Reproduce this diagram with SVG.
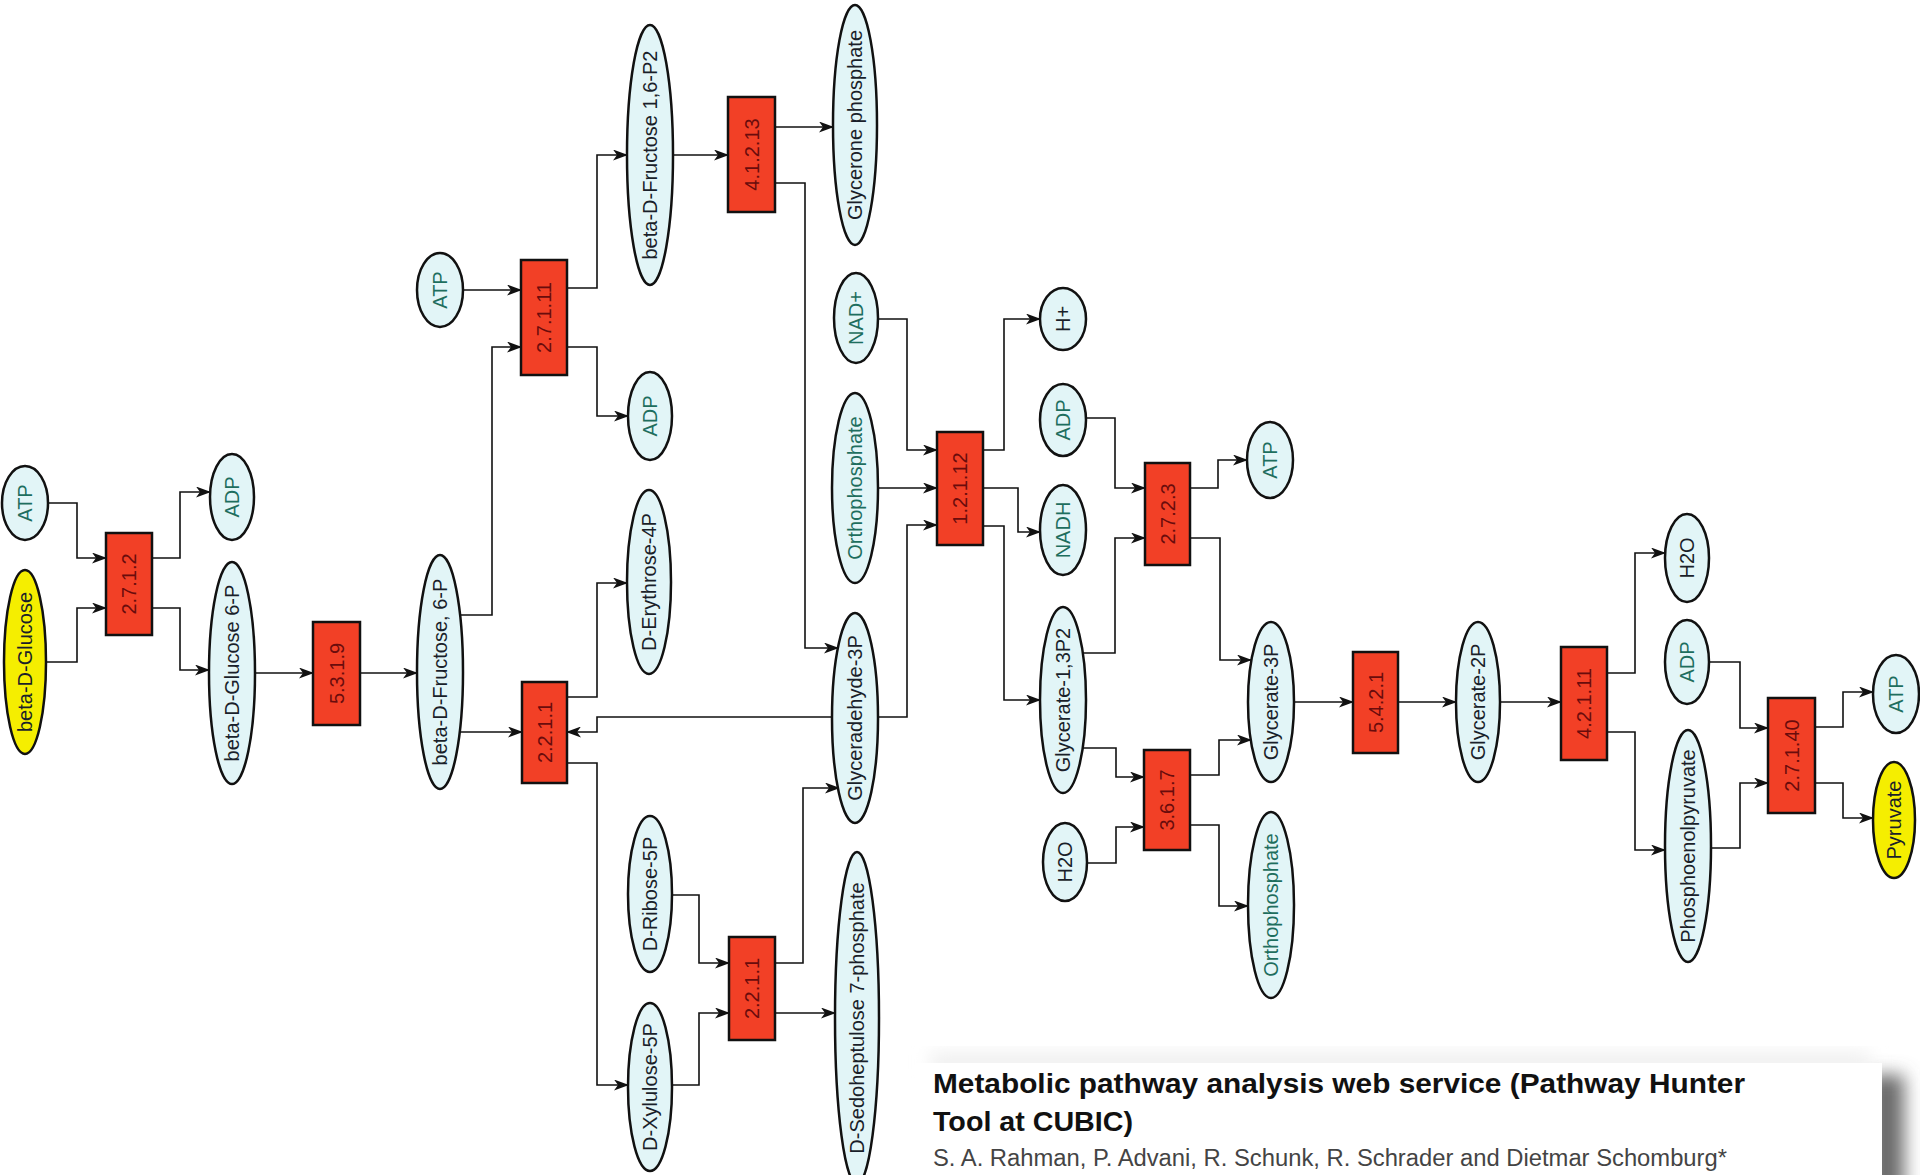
<svg xmlns="http://www.w3.org/2000/svg" width="1920" height="1175" viewBox="0 0 1920 1175">
<defs>
<style>
.m{fill:#e2f5f7;stroke:#111;stroke-width:2.5}
.y{fill:#f5ee00;stroke:#111;stroke-width:2.5}
.e{fill:#f24026;stroke:#111;stroke-width:2.5}
text{font-family:"Liberation Sans",Arial,sans-serif}
.t{font-size:20px;fill:#1a1f2a;text-anchor:middle;dominant-baseline:central}
.c{fill:#1e6e5e}
.et{font-size:20px;fill:#6a0c0c;text-anchor:middle;dominant-baseline:central}
.k path,.k polyline{fill:none;stroke:#111;stroke-width:1.6}
.k polyline{marker-end:url(#ah)}
.ttl{font-size:28px;font-weight:bold;fill:#111}
.au{font-size:23px;fill:#444}
</style>
<marker id="ah" viewBox="0 0 15 11" refX="14" refY="5.5" markerWidth="15" markerHeight="11" markerUnits="userSpaceOnUse" orient="auto"><path d="M0,0 L15,5.5 L0,11 L4,5.5 z" fill="#111"/></marker>
<filter id="sh" x="-50%" y="-50%" width="200%" height="200%"><feGaussianBlur stdDeviation="9"/></filter>
</defs>
<rect width="1920" height="1175" fill="#fff"/>

<g id="connectors" class="k">
<polyline points="48,503 77,503 77,558 106,558"/>
<polyline points="46,662 77,662 77,608 106,608"/>
<polyline points="152,558 180,558 180,492 210,492"/>
<polyline points="152,608 180,608 180,670 209,670"/>
<polyline points="255,673 313,673"/>
<polyline points="360,673 417,673"/>
<polyline points="463,290 521,290"/>
<polyline points="460,615 492,615 492,347 521,347"/>
<polyline points="567,288 597,288 597,155 627,155"/>
<polyline points="567,347 597,347 597,416 628,416"/>
<polyline points="673,155 728,155"/>
<polyline points="775,127 833,127"/>
<polyline points="775,183 805,183 805,648 838,648"/>
<polyline points="459,732 522,732"/>
<polyline points="567,697 597,697 597,583 627,583"/>
<polyline points="832,717 597,717 597,732 567,732"/>
<polyline points="567,763 597,763 597,1085 628,1085"/>
<polyline points="672,895 699,895 699,963 729,963"/>
<polyline points="672,1085 699,1085 699,1013 729,1013"/>
<polyline points="775,963 803,963 803,788 839,788"/>
<polyline points="775,1013 835,1013"/>
<polyline points="878,319 907,319 907,450 937,450"/>
<polyline points="878,488 937,488"/>
<polyline points="878,717 907,717 907,525 937,525"/>
<polyline points="983,450 1004,450 1004,319 1040,319"/>
<polyline points="983,488 1018,488 1018,532 1040,532"/>
<polyline points="983,526 1004,526 1004,700 1040,700"/>
<polyline points="1086,418 1115,418 1115,488 1145,488"/>
<polyline points="1083,653 1115,653 1115,538 1145,538"/>
<polyline points="1190,488 1218,488 1218,460 1247,460"/>
<polyline points="1190,538 1220,538 1220,660 1251,660"/>
<polyline points="1083,748 1116,748 1116,777 1144,777"/>
<polyline points="1087,863 1116,863 1116,827 1144,827"/>
<polyline points="1190,775 1219,775 1219,740 1251,740"/>
<polyline points="1190,825 1219,825 1219,906 1248,906"/>
<polyline points="1294,702 1353,702"/>
<polyline points="1398,702 1456,702"/>
<polyline points="1500,702 1561,702"/>
<polyline points="1607,673 1635,673 1635,553 1665,553"/>
<polyline points="1607,732 1635,732 1635,850 1665,850"/>
<polyline points="1709,662 1740,662 1740,728 1768,728"/>
<polyline points="1711,848 1740,848 1740,783 1768,783"/>
<polyline points="1815,727 1843,727 1843,692 1873,692"/>
<polyline points="1815,783 1843,783 1843,818 1873,818"/>
</g>

<g id="n-atp1"><ellipse class="m" cx="25" cy="503" rx="23" ry="37"/><text class="t c" x="25" y="503" transform="rotate(-90 25 503)">ATP</text></g>
<g id="n-glucose"><ellipse class="y" cx="25" cy="662" rx="21" ry="92"/><text class="t" x="25" y="662" transform="rotate(-90 25 662)">beta-D-Glucose</text></g>
<g id="n-adp1"><ellipse class="m" cx="232" cy="497" rx="22" ry="43"/><text class="t c" x="232" y="497" transform="rotate(-90 232 497)">ADP</text></g>
<g id="n-g6p"><ellipse class="m" cx="232" cy="673" rx="23" ry="111"/><text class="t" x="232" y="673" transform="rotate(-90 232 673)">beta-D-Glucose 6-P</text></g>
<g id="n-f6p"><ellipse class="m" cx="440" cy="672" rx="23" ry="117"/><text class="t" x="440" y="672" transform="rotate(-90 440 672)">beta-D-Fructose, 6-P</text></g>
<g id="n-atp2"><ellipse class="m" cx="440" cy="290" rx="23" ry="37"/><text class="t c" x="440" y="290" transform="rotate(-90 440 290)">ATP</text></g>
<g id="n-f16p2"><ellipse class="m" cx="650" cy="155" rx="23" ry="130"/><text class="t" x="650" y="155" transform="rotate(-90 650 155)">beta-D-Fructose 1,6-P2</text></g>
<g id="n-adp2"><ellipse class="m" cx="650" cy="416" rx="22" ry="44"/><text class="t c" x="650" y="416" transform="rotate(-90 650 416)">ADP</text></g>
<g id="n-e4p"><ellipse class="m" cx="649" cy="582" rx="22" ry="92"/><text class="t" x="649" y="582" transform="rotate(-90 649 582)">D-Erythrose-4P</text></g>
<g id="n-r5p"><ellipse class="m" cx="650" cy="894" rx="22" ry="78"/><text class="t" x="650" y="894" transform="rotate(-90 650 894)">D-Ribose-5P</text></g>
<g id="n-x5p"><ellipse class="m" cx="650" cy="1087" rx="22" ry="84"/><text class="t" x="650" y="1087" transform="rotate(-90 650 1087)">D-Xylulose-5P</text></g>
<g id="n-dhap"><ellipse class="m" cx="855" cy="125" rx="22" ry="120"/><text class="t" x="855" y="125" transform="rotate(-90 855 125)">Glycerone phosphate</text></g>
<g id="n-nad"><ellipse class="m" cx="856" cy="318" rx="22" ry="45"/><text class="t c" x="856" y="318" transform="rotate(-90 856 318)">NAD+</text></g>
<g id="n-pi1"><ellipse class="m" cx="855" cy="488" rx="23" ry="95"/><text class="t c" x="855" y="488" transform="rotate(-90 855 488)">Orthophosphate</text></g>
<g id="n-gap"><ellipse class="m" cx="855" cy="718" rx="23" ry="105"/><text class="t" x="855" y="718" transform="rotate(-90 855 718)">Glyceradehyde-3P</text></g>
<g id="n-s7p"><ellipse class="m" cx="857" cy="1018" rx="22" ry="166"/><text class="t" x="857" y="1018" transform="rotate(-90 857 1018)">D-Sedoheptulose 7-phosphate</text></g>
<g id="n-hplus"><ellipse class="m" cx="1063" cy="319" rx="23" ry="31"/><text class="t" x="1063" y="319" transform="rotate(-90 1063 319)">H+</text></g>
<g id="n-adp3"><ellipse class="m" cx="1063" cy="420" rx="23" ry="36"/><text class="t c" x="1063" y="420" transform="rotate(-90 1063 420)">ADP</text></g>
<g id="n-nadh"><ellipse class="m" cx="1063" cy="530" rx="23" ry="45"/><text class="t c" x="1063" y="530" transform="rotate(-90 1063 530)">NADH</text></g>
<g id="n-bpg"><ellipse class="m" cx="1063" cy="700" rx="23" ry="93"/><text class="t" x="1063" y="700" transform="rotate(-90 1063 700)">Glycerate-1,3P2</text></g>
<g id="n-h2o1"><ellipse class="m" cx="1065" cy="862" rx="22" ry="39"/><text class="t" x="1065" y="862" transform="rotate(-90 1065 862)">H2O</text></g>
<g id="n-atp3"><ellipse class="m" cx="1270" cy="460" rx="23" ry="38"/><text class="t c" x="1270" y="460" transform="rotate(-90 1270 460)">ATP</text></g>
<g id="n-pg3"><ellipse class="m" cx="1271" cy="702" rx="23" ry="80"/><text class="t" x="1271" y="702" transform="rotate(-90 1271 702)">Glycerate-3P</text></g>
<g id="n-pi2"><ellipse class="m" cx="1271" cy="905" rx="23" ry="93"/><text class="t c" x="1271" y="905" transform="rotate(-90 1271 905)">Orthophosphate</text></g>
<g id="n-pg2"><ellipse class="m" cx="1478" cy="702" rx="22" ry="80"/><text class="t" x="1478" y="702" transform="rotate(-90 1478 702)">Glycerate-2P</text></g>
<g id="n-h2o2"><ellipse class="m" cx="1687" cy="558" rx="22" ry="44"/><text class="t" x="1687" y="558" transform="rotate(-90 1687 558)">H2O</text></g>
<g id="n-adp4"><ellipse class="m" cx="1687" cy="662" rx="22" ry="42"/><text class="t c" x="1687" y="662" transform="rotate(-90 1687 662)">ADP</text></g>
<g id="n-pep"><ellipse class="m" cx="1688" cy="846" rx="23" ry="116"/><text class="t" x="1688" y="846" transform="rotate(-90 1688 846)">Phosphoenolpyruvate</text></g>
<g id="n-atp4"><ellipse class="m" cx="1896" cy="694" rx="23" ry="39"/><text class="t c" x="1896" y="694" transform="rotate(-90 1896 694)">ATP</text></g>
<g id="n-pyr"><ellipse class="y" cx="1894" cy="820" rx="21" ry="58"/><text class="t" x="1894" y="820" transform="rotate(-90 1894 820)">Pyruvate</text></g>

<g id="e-27112"><rect class="e" x="106" y="533" width="46" height="102"/><text class="et" x="129" y="584" transform="rotate(-90 129 584)">2.7.1.2</text></g>
<g id="e-5319"><rect class="e" x="313" y="622" width="47" height="103"/><text class="et" x="336.5" y="673.5" transform="rotate(-90 336.5 673.5)">5.3.1.9</text></g>
<g id="e-27111"><rect class="e" x="521" y="260" width="46" height="115"/><text class="et" x="544" y="317.5" transform="rotate(-90 544 317.5)">2.7.1.11</text></g>
<g id="e-41213"><rect class="e" x="728" y="97" width="47" height="115"/><text class="et" x="751.5" y="154.5" transform="rotate(-90 751.5 154.5)">4.1.2.13</text></g>
<g id="e-2211a"><rect class="e" x="522" y="682" width="45" height="101"/><text class="et" x="544.5" y="732.5" transform="rotate(-90 544.5 732.5)">2.2.1.1</text></g>
<g id="e-2211b"><rect class="e" x="729" y="937" width="46" height="103"/><text class="et" x="752" y="988.5" transform="rotate(-90 752 988.5)">2.2.1.1</text></g>
<g id="e-12112"><rect class="e" x="937" y="432" width="46" height="113"/><text class="et" x="960" y="488.5" transform="rotate(-90 960 488.5)">1.2.1.12</text></g>
<g id="e-2723"><rect class="e" x="1145" y="463" width="45" height="102"/><text class="et" x="1167.5" y="514" transform="rotate(-90 1167.5 514)">2.7.2.3</text></g>
<g id="e-3617"><rect class="e" x="1144" y="750" width="46" height="100"/><text class="et" x="1167" y="800" transform="rotate(-90 1167 800)">3.6.1.7</text></g>
<g id="e-5421"><rect class="e" x="1353" y="652" width="45" height="101"/><text class="et" x="1375.5" y="702.5" transform="rotate(-90 1375.5 702.5)">5.4.2.1</text></g>
<g id="e-42111"><rect class="e" x="1561" y="647" width="46" height="113"/><text class="et" x="1584" y="703.5" transform="rotate(-90 1584 703.5)">4.2.1.11</text></g>
<g id="e-27140"><rect class="e" x="1768" y="698" width="47" height="115"/><text class="et" x="1791.5" y="755.5" transform="rotate(-90 1791.5 755.5)">2.7.1.40</text></g>

<g id="title-card">
<rect x="1868" y="1075" width="36" height="120" fill="#6a6a6a" filter="url(#sh)"/>
<rect x="930" y="1054" width="940" height="16" fill="#ececec" filter="url(#sh)"/>
<rect x="915" y="1063" width="967" height="112" fill="#fff"/>
<text class="ttl" x="933" y="1093" textLength="812" lengthAdjust="spacingAndGlyphs">Metabolic pathway analysis web service (Pathway Hunter</text>
<text class="ttl" x="933" y="1131" textLength="200" lengthAdjust="spacingAndGlyphs">Tool at CUBIC)</text>
<text class="au" x="933" y="1166" textLength="794" lengthAdjust="spacingAndGlyphs">S. A. Rahman, P. Advani, R. Schunk, R. Schrader and Dietmar Schomburg*</text>
</g>
</svg>
